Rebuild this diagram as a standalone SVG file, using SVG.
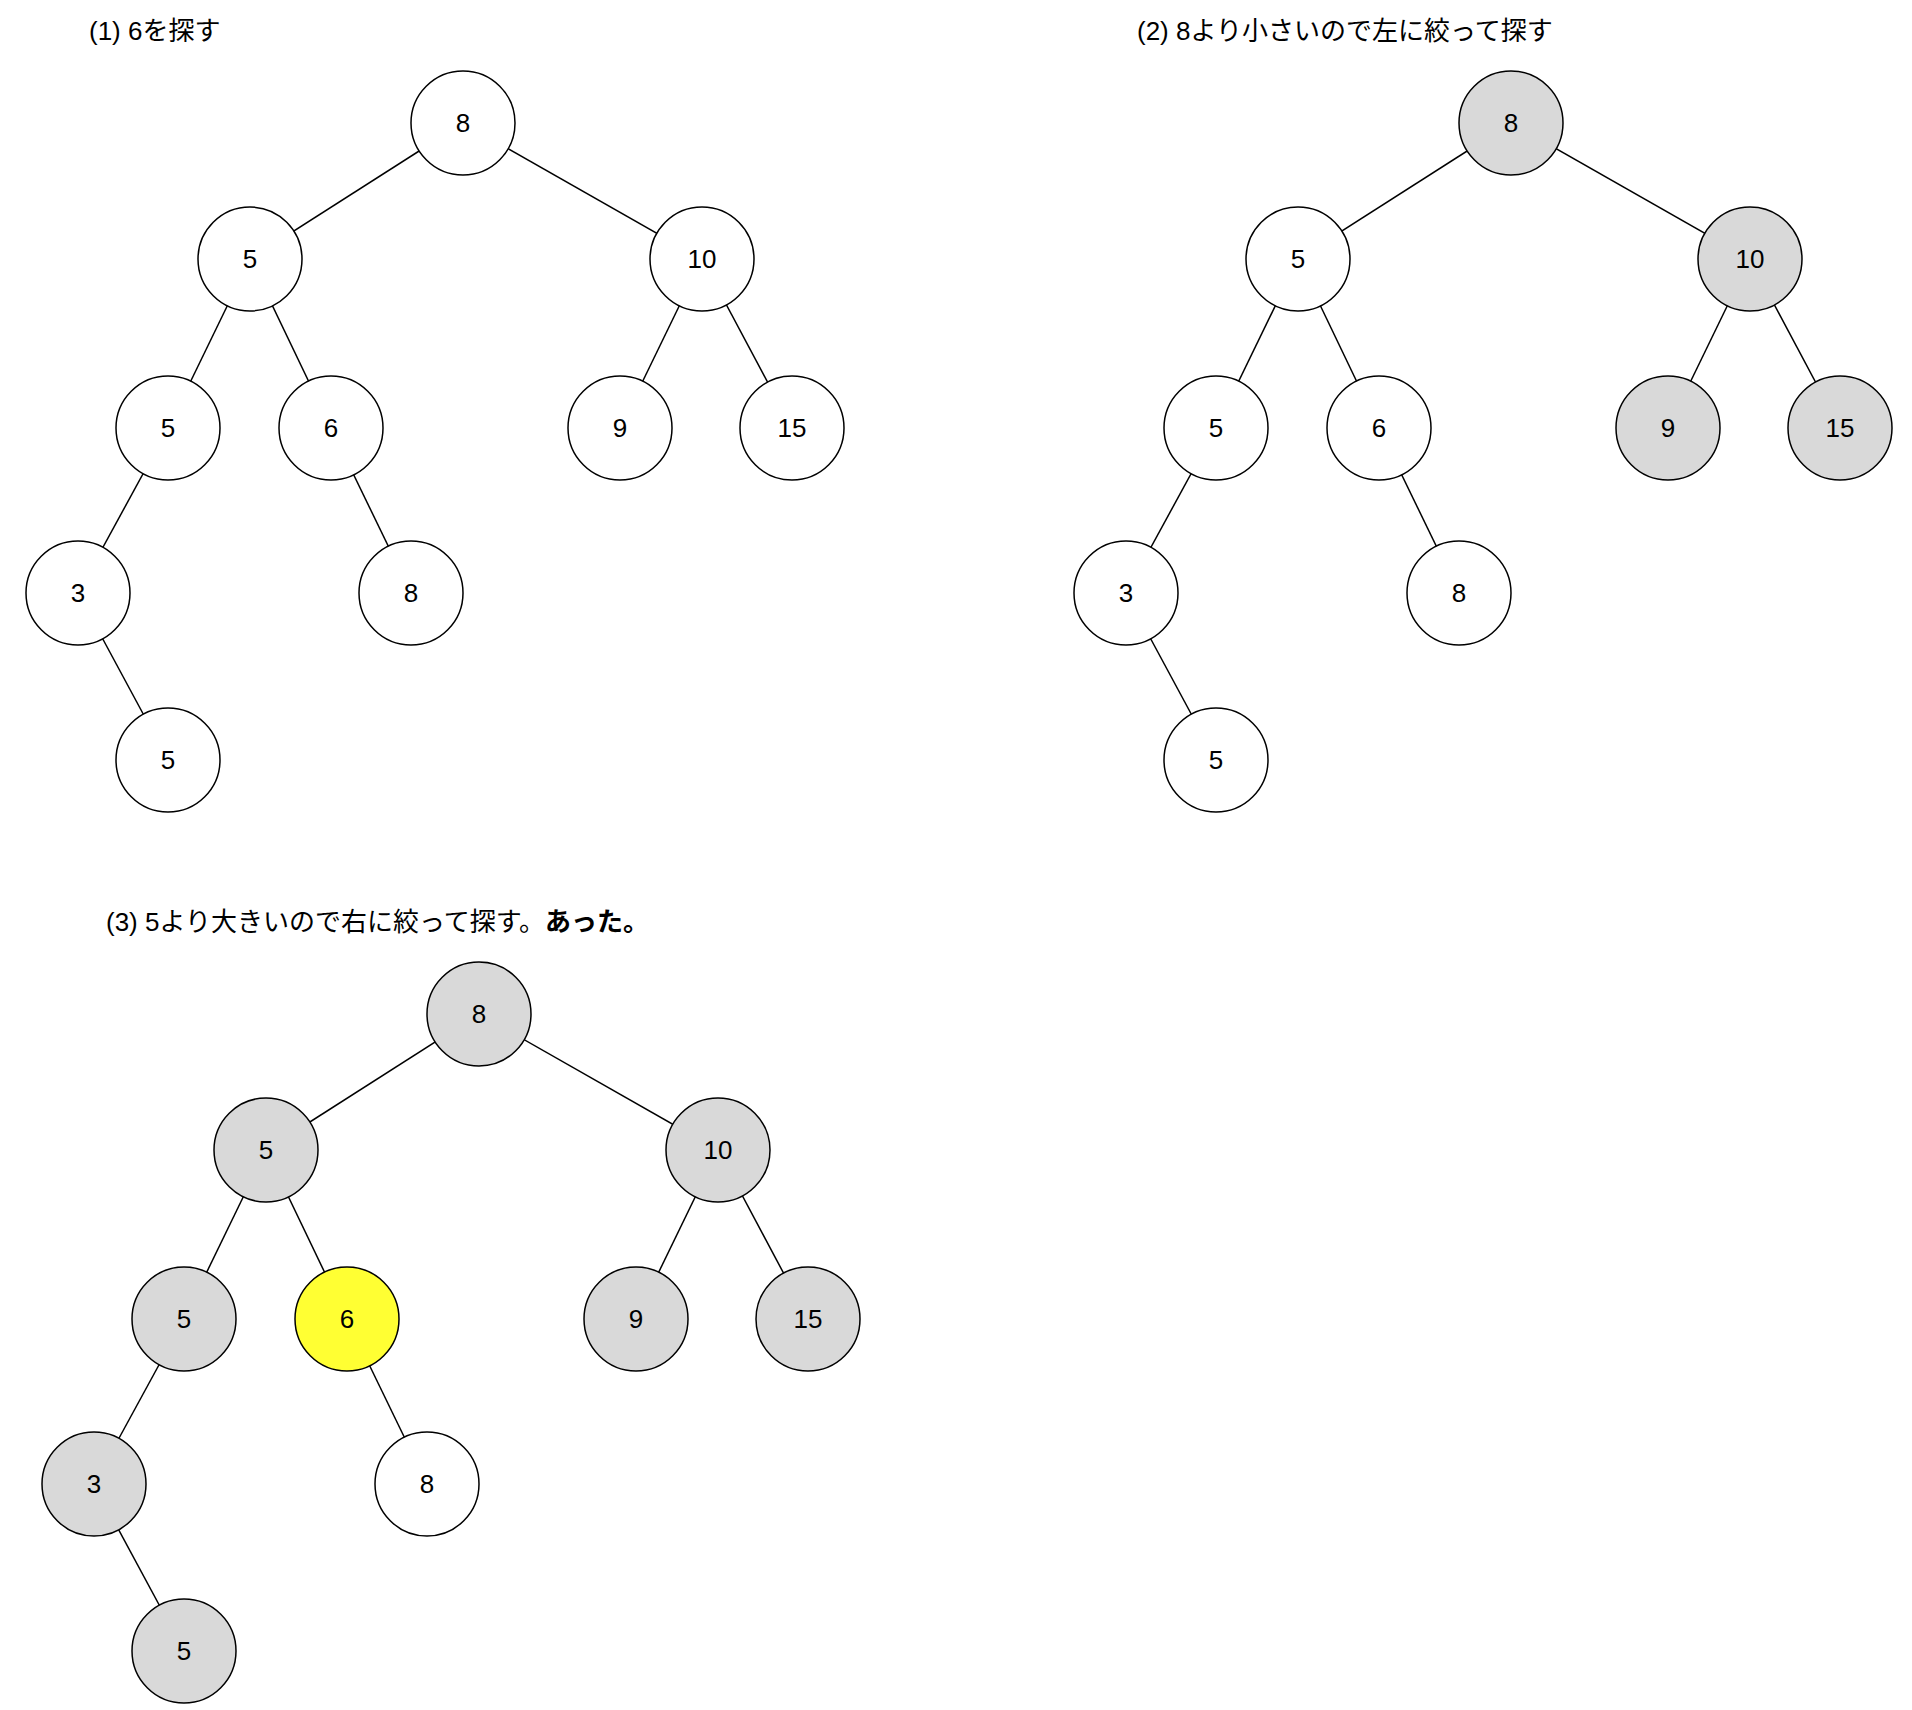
<svg xmlns="http://www.w3.org/2000/svg" width="1912" height="1710" viewBox="0 0 1912 1710">
<style>
.n{stroke:#000;stroke-width:1.5;fill:#fff}
.g{fill:#d9d9d9}
.y{fill:#ffff33}
.t{font-family:"Liberation Sans",Arial,sans-serif;font-size:26px;text-anchor:middle;dominant-baseline:central}
.h{font-family:"Liberation Sans","Noto Sans CJK JP",sans-serif;font-size:26px}
line{stroke:#000;stroke-width:1.5}
</style>
<rect width="1912" height="1710" fill="#fff"/>
<defs>
<g id="edges">
<line x1="463" y1="123" x2="250" y2="259"/><line x1="463" y1="123" x2="702" y2="259"/>
<line x1="250" y1="259" x2="168" y2="428"/><line x1="250" y1="259" x2="331" y2="428"/>
<line x1="702" y1="259" x2="620" y2="428"/><line x1="702" y1="259" x2="792" y2="428"/>
<line x1="168" y1="428" x2="78" y2="593"/><line x1="331" y1="428" x2="411" y2="593"/>
<line x1="78" y1="593" x2="168" y2="760"/>
</g>
</defs>
<g id="connectors">
<use href="#edges"/>
<use href="#edges" transform="translate(1048,0)"/>
<use href="#edges" transform="translate(16,891)"/>
</g>
<text class="h" x="89" y="40">(1) 6を探す</text>
<text class="h" x="1137" y="40">(2) 8より小さいので左に絞って探す</text>
<text class="h" x="106" y="931">(3) 5より大きいので右に絞って探す。<tspan font-weight="bold">あった。</tspan></text>
<g id="p1">
<g id="p1n1"><circle class="n" cx="463" cy="123" r="52"/><text class="t" x="463" y="123">8</text></g>
<g id="p1n2"><circle class="n" cx="250" cy="259" r="52"/><text class="t" x="250" y="259">5</text></g>
<g id="p1n3"><circle class="n" cx="702" cy="259" r="52"/><text class="t" x="702" y="259">10</text></g>
<g id="p1n4"><circle class="n" cx="168" cy="428" r="52"/><text class="t" x="168" y="428">5</text></g>
<g id="p1n5"><circle class="n" cx="331" cy="428" r="52"/><text class="t" x="331" y="428">6</text></g>
<g id="p1n6"><circle class="n" cx="620" cy="428" r="52"/><text class="t" x="620" y="428">9</text></g>
<g id="p1n7"><circle class="n" cx="792" cy="428" r="52"/><text class="t" x="792" y="428">15</text></g>
<g id="p1n8"><circle class="n" cx="78" cy="593" r="52"/><text class="t" x="78" y="593">3</text></g>
<g id="p1n9"><circle class="n" cx="411" cy="593" r="52"/><text class="t" x="411" y="593">8</text></g>
<g id="p1n10"><circle class="n" cx="168" cy="760" r="52"/><text class="t" x="168" y="760">5</text></g>
</g>
<g id="p2" transform="translate(1048,0)">
<g id="p2n1"><circle class="n g" cx="463" cy="123" r="52"/><text class="t" x="463" y="123">8</text></g>
<g id="p2n2"><circle class="n" cx="250" cy="259" r="52"/><text class="t" x="250" y="259">5</text></g>
<g id="p2n3"><circle class="n g" cx="702" cy="259" r="52"/><text class="t" x="702" y="259">10</text></g>
<g id="p2n4"><circle class="n" cx="168" cy="428" r="52"/><text class="t" x="168" y="428">5</text></g>
<g id="p2n5"><circle class="n" cx="331" cy="428" r="52"/><text class="t" x="331" y="428">6</text></g>
<g id="p2n6"><circle class="n g" cx="620" cy="428" r="52"/><text class="t" x="620" y="428">9</text></g>
<g id="p2n7"><circle class="n g" cx="792" cy="428" r="52"/><text class="t" x="792" y="428">15</text></g>
<g id="p2n8"><circle class="n" cx="78" cy="593" r="52"/><text class="t" x="78" y="593">3</text></g>
<g id="p2n9"><circle class="n" cx="411" cy="593" r="52"/><text class="t" x="411" y="593">8</text></g>
<g id="p2n10"><circle class="n" cx="168" cy="760" r="52"/><text class="t" x="168" y="760">5</text></g>
</g>
<g id="p3" transform="translate(16,891)">
<g id="p3n1"><circle class="n g" cx="463" cy="123" r="52"/><text class="t" x="463" y="123">8</text></g>
<g id="p3n2"><circle class="n g" cx="250" cy="259" r="52"/><text class="t" x="250" y="259">5</text></g>
<g id="p3n3"><circle class="n g" cx="702" cy="259" r="52"/><text class="t" x="702" y="259">10</text></g>
<g id="p3n4"><circle class="n g" cx="168" cy="428" r="52"/><text class="t" x="168" y="428">5</text></g>
<g id="p3n5"><circle class="n y" cx="331" cy="428" r="52"/><text class="t" x="331" y="428">6</text></g>
<g id="p3n6"><circle class="n g" cx="620" cy="428" r="52"/><text class="t" x="620" y="428">9</text></g>
<g id="p3n7"><circle class="n g" cx="792" cy="428" r="52"/><text class="t" x="792" y="428">15</text></g>
<g id="p3n8"><circle class="n g" cx="78" cy="593" r="52"/><text class="t" x="78" y="593">3</text></g>
<g id="p3n9"><circle class="n" cx="411" cy="593" r="52"/><text class="t" x="411" y="593">8</text></g>
<g id="p3n10"><circle class="n g" cx="168" cy="760" r="52"/><text class="t" x="168" y="760">5</text></g>
</g>
</svg>
